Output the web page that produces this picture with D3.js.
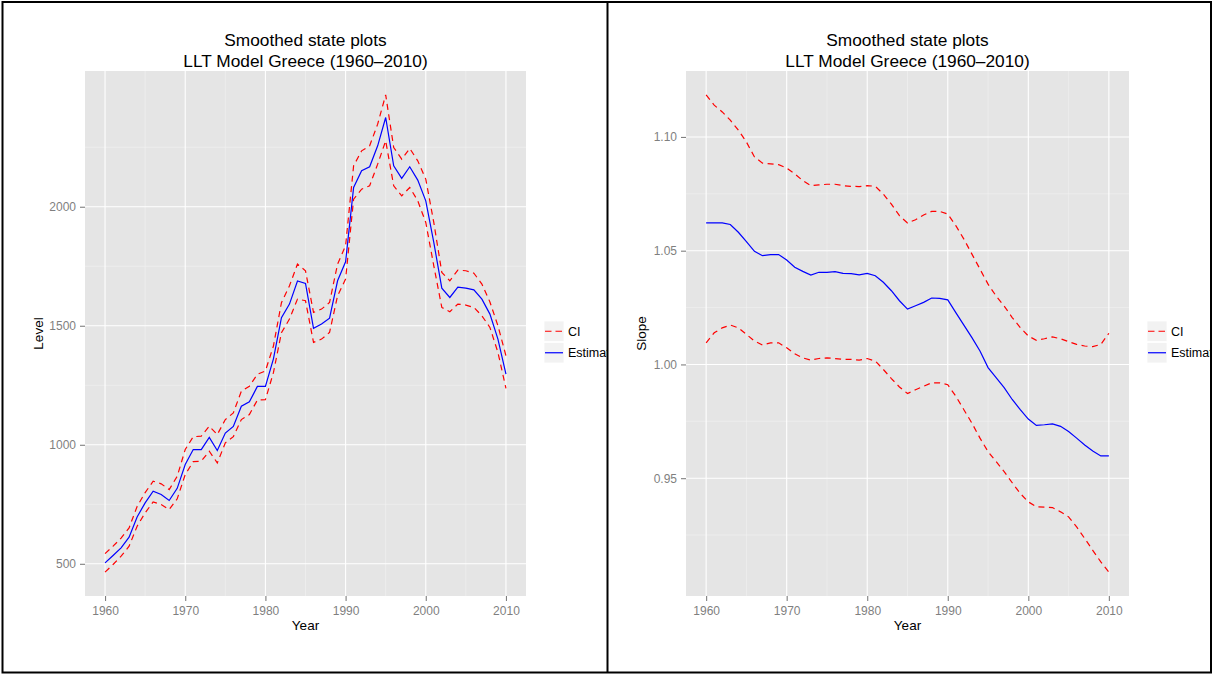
<!DOCTYPE html>
<html>
<head>
<meta charset="utf-8">
<script src="https://cdn.jsdelivr.net/npm/d3@7"></script>
<style>
body { margin: 0; background: #fff; }
svg { display: block; font-family: "Liberation Sans", Arial, Helvetica, sans-serif; }
</style>
</head>
<body>
<svg id="chart" width="1213" height="674"></svg>
<script>
// values
const years = [1960,1961,1962,1963,1964,1965,1966,1967,1968,1969,
	1970,1971,1972,1973,1974,1975,1976,1977,1978,1979,
	1980,1981,1982,1983,1984,1985,1986,1987,1988,1989,
	1990,1991,1992,1993,1994,1995,1996,1997,1998,1999,
	2000,2001,2002,2003,2004,2005,2006,2007,2008,2009,2010];

const levelEst = [504,535,567,612,697,756,805,791,766,817,
	917,980,980,1031,976,1049,1077,1162,1181,1245,
	1245,1361,1534,1591,1688,1678,1489,1507,1532,1689,
	1769,2081,2151,2168,2256,2375,2172,2119,2168,2112,
	2025,1850,1658,1619,1662,1658,1651,1612,1549,1444,1297];
const levelUpper = [543,574,608,651,741,799,847,836,812,868,
	980,1034,1036,1078,1043,1106,1134,1225,1246,1296,
	1310,1415,1597,1668,1759,1731,1556,1570,1598,1759,
	1836,2172,2235,2256,2347,2470,2249,2200,2245,2193,
	2116,1934,1724,1689,1734,1731,1721,1675,1600,1500,1374];
const levelLower = [465,497,532,574,658,714,760,749,728,773,
	875,929,931,973,924,1008,1034,1106,1127,1188,
	1190,1303,1471,1528,1612,1605,1430,1444,1472,1626,
	1696,2032,2074,2088,2179,2277,2088,2046,2081,2025,
	1934,1752,1577,1559,1591,1587,1577,1542,1493,1388,1237];

const slopeEst = [1.0622,1.0622,1.0622,1.0615,1.0581,1.0540,1.0497,1.0478,1.0483,1.0483,
	1.0459,1.0427,1.0409,1.0393,1.0405,1.0405,1.0408,1.0400,1.0399,1.0394,
	1.0400,1.0390,1.0361,1.0324,1.0280,1.0243,1.0258,1.0273,1.0292,1.0290,
	1.0284,1.0228,1.0173,1.0118,1.0059,0.9986,0.9942,0.9898,0.9846,0.9801,
	0.9760,0.9732,0.9735,0.9739,0.9728,0.9705,0.9676,0.9646,0.9620,0.9598,0.9598];
const slopeUpper = [1.1185,1.1140,1.1110,1.1074,1.1030,1.0978,1.0912,1.0885,1.0882,1.0878,
	1.0863,1.0838,1.0808,1.0786,1.0789,1.0792,1.0792,1.0786,1.0783,1.0782,
	1.0786,1.0783,1.0749,1.0705,1.0654,1.0622,1.0636,1.0657,1.0673,1.0673,
	1.0661,1.0610,1.0551,1.0485,1.0419,1.0353,1.0301,1.0257,1.0206,1.0162,
	1.0125,1.0106,1.0113,1.0121,1.0113,1.0100,1.0088,1.0081,1.0078,1.0088,1.0137];
const slopeLower = [1.0095,1.0139,1.0161,1.0173,1.0161,1.0132,1.0103,1.0085,1.0095,1.0095,
	1.0073,1.0047,1.0029,1.0019,1.0026,1.0029,1.0026,1.0022,1.0022,1.0019,
	1.0026,1.0015,0.9978,0.9938,0.9901,0.9872,0.9889,0.9904,0.9919,0.9919,
	0.9911,0.9860,0.9801,0.9742,0.9676,0.9617,0.9573,0.9529,0.9480,0.9433,
	0.9396,0.9374,0.9373,0.9371,0.9352,0.9330,0.9286,0.9235,0.9183,0.9132,0.9087];

const yearTicks = [1960,1970,1980,1990,2000,2010];
const yearMinor = [1965,1975,1985,1995,2005];
const levelTicks = [500,1000,1500,2000];
const levelMinor = [750,1250,1750,2250];
const slopeTicks = [0.95,1.00,1.05,1.10];
const slopeMinor = [0.925,0.975,1.025,1.075];
const legendLabels = ["CI","Estimate"];
const titleLines = ["Smoothed state plots","LLT Model Greece (1960\u20132010)"];

const svg = d3.select("#chart");

function expand(arr) {
	// ggplot style 5% padding
	let lo = d3.min(arr), hi = d3.max(arr);
	let pad = (hi - lo) * 0.05;
	return [lo - pad, hi + pad];
}

function drawPanel(cfg) {
	let clipId = "clip" + cfg.id;
	svg.append("clipPath").attr("id", clipId)
		.append("rect")
		.attr("x", cfg.clip[0]).attr("y", 0)
		.attr("width", cfg.clip[1] - cfg.clip[0]).attr("height", 674);

	let g = svg.append("g").attr("clip-path", "url(#" + clipId + ")");
	let left = cfg.left, right = cfg.right, top = 71, bottom = 596;

	let x = d3.scaleLinear()
		.domain([years[0] - 2.5, years[years.length - 1] + 2.5])
		.range([left, right]);
	let y = d3.scaleLinear()
		.domain(expand(cfg.upper.concat(cfg.lower, cfg.est)))
		.range([bottom, top]);

	g.append("rect")
		.attr("x", left).attr("y", top)
		.attr("width", right - left).attr("height", bottom - top)
		.attr("fill", "#E5E5E5");

	// minor grid
	g.selectAll(".vminor").data(yearMinor).enter().append("line")
		.attr("x1", d => x(d)).attr("x2", d => x(d))
		.attr("y1", top).attr("y2", bottom)
		.attr("stroke", "#F2F2F2").attr("stroke-width", 0.6);
	g.selectAll(".hminor").data(cfg.minor).enter().append("line")
		.attr("x1", left).attr("x2", right)
		.attr("y1", d => y(d)).attr("y2", d => y(d))
		.attr("stroke", "#F2F2F2").attr("stroke-width", 0.6);

	// major grid
	g.selectAll(".vmajor").data(yearTicks).enter().append("line")
		.attr("x1", d => x(d)).attr("x2", d => x(d))
		.attr("y1", top).attr("y2", bottom)
		.attr("stroke", "#fff").attr("stroke-width", 1.1);
	g.selectAll(".hmajor").data(cfg.ticks).enter().append("line")
		.attr("x1", left).attr("x2", right)
		.attr("y1", d => y(d)).attr("y2", d => y(d))
		.attr("stroke", "#fff").attr("stroke-width", 1.1);

	let line = function (vals) {
		return d3.line()
			.x((d, i) => x(years[i]))
			.y(d => y(d))(vals);
	};

	[cfg.upper, cfg.lower].forEach(function (vals) {
		g.append("path")
			.attr("d", line(vals))
			.attr("fill", "none")
			.attr("stroke", "#FF0000")
			.attr("stroke-width", 1.2)
			.attr("stroke-dasharray", "6,4.5");
	});
	g.append("path")
		.attr("d", line(cfg.est))
		.attr("fill", "none")
		.attr("stroke", "#0000FF")
		.attr("stroke-width", 1.2);

	// axes
	let xAxis = g.append("g")
		.attr("transform", "translate(0," + bottom + ")")
		.call(d3.axisBottom(x).tickValues(yearTicks).tickFormat(d3.format("d"))
			.tickSize(5).tickPadding(5));
	let yAxis = g.append("g")
		.attr("transform", "translate(" + left + ",0)")
		.call(d3.axisLeft(y).tickValues(cfg.ticks).tickFormat(cfg.fmt)
			.tickSize(5).tickPadding(4));
	[xAxis, yAxis].forEach(function (ax) {
		ax.select(".domain").remove();
		ax.selectAll(".tick line").attr("stroke", "#7F7F7F").attr("stroke-width", 1.1);
		ax.selectAll(".tick text")
			.attr("fill", "#7F7F7F")
			.style("font-size", "12px")
			.style("font-family", "'Liberation Sans', Arial, sans-serif");
	});

	// titles
	let cx = (left + right) / 2;
	g.append("text")
		.attr("x", cx).attr("y", 45.5)
		.attr("text-anchor", "middle")
		.style("font-size", "17.3px")
		.text(titleLines[0]);
	g.append("text")
		.attr("x", cx).attr("y", 66.5)
		.attr("text-anchor", "middle")
		.style("font-size", "17.3px")
		.text(titleLines[1]);

	g.append("text")
		.attr("x", cx).attr("y", 630)
		.attr("text-anchor", "middle")
		.style("font-size", "13.5px")
		.text("Year");
	g.append("text")
		.attr("transform", "translate(" + cfg.ylabX + "," + ((top + bottom) / 2) + ") rotate(-90)")
		.attr("text-anchor", "middle")
		.style("font-size", "13.5px")
		.text(cfg.ylab);

	// legend
	let lx = right + 18, ly = 321;
	legendLabels.forEach(function (lab, i) {
		let ky = ly + i * 21.5;
		g.append("rect")
			.attr("x", lx).attr("y", ky)
			.attr("width", 20).attr("height", 20.5)
			.attr("fill", "#F2F2F2")
			.attr("stroke", "#fff").attr("stroke-width", 0.8);
		g.append("line")
			.attr("x1", lx + 1).attr("x2", lx + 19)
			.attr("y1", ky + 10.25).attr("y2", ky + 10.25)
			.attr("stroke", i == 0 ? "#FF0000" : "#0000FF")
			.attr("stroke-width", 1.2)
			.attr("stroke-dasharray", i == 0 ? "6.5,4" : null);
		g.append("text")
			.attr("x", lx + 24).attr("y", ky + 10.25)
			.attr("dy", "0.35em")
			.style("font-size", "12.5px")
			.text(lab);
	});
}

drawPanel({
	id: 1, left: 85, right: 526, clip: [3, 607],
	est: levelEst, upper: levelUpper, lower: levelLower,
	ticks: levelTicks, minor: levelMinor, fmt: d3.format("d"),
	ylab: "Level", ylabX: 43
});

drawPanel({
	id: 2, left: 686, right: 1129, clip: [608, 1210],
	est: slopeEst, upper: slopeUpper, lower: slopeLower,
	ticks: slopeTicks, minor: slopeMinor, fmt: d3.format(".2f"),
	ylab: "Slope", ylabX: 646
});

// frame round both plots
svg.append("rect")
	.attr("x", 2.5).attr("y", 2)
	.attr("width", 1208.5).attr("height", 670.5)
	.attr("fill", "none").attr("stroke", "#000").attr("stroke-width", 2);
svg.append("line")
	.attr("x1", 607.5).attr("x2", 607.5).attr("y1", 2).attr("y2", 672.5)
	.attr("stroke", "#000").attr("stroke-width", 2);
</script>
</body>
</html>
